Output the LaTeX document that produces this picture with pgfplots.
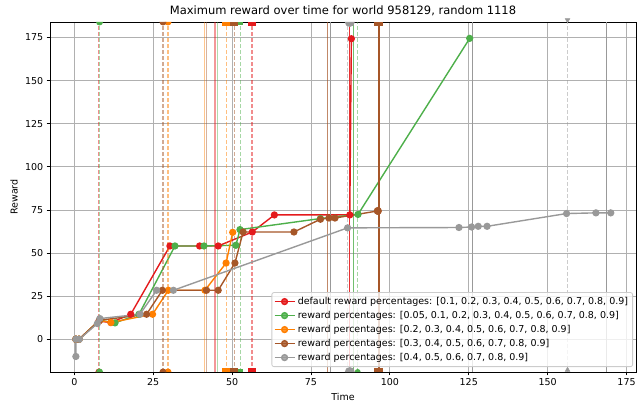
\documentclass[border=0pt]{standalone}
\usepackage{fontspec}
\setmainfont{DejaVu Sans}
\usepackage{pgfplots}
\pgfplotsset{compat=1.18}
\definecolor{cred}{HTML}{E41A1C}
\definecolor{cgreen}{HTML}{4DAF4A}
\definecolor{corange}{HTML}{FF7F00}
\definecolor{cbrown}{HTML}{A65628}
\definecolor{cgrey}{HTML}{999999}
\definecolor{gridc}{HTML}{B0B0B0}
% half marks for the axis edges
\pgfdeclareplotmark{hcd}{\pgfpathmoveto{\pgfqpoint{-\pgfplotmarksize}{0pt}}\pgfpatharc{180}{360}{\pgfplotmarksize}\pgfpathclose\pgfusepathqfill}
\pgfdeclareplotmark{hcu}{\pgfpathmoveto{\pgfqpoint{-\pgfplotmarksize}{0pt}}\pgfpatharc{180}{0}{\pgfplotmarksize}\pgfpathclose\pgfusepathqfill}
\pgfdeclareplotmark{hsd}{\pgfpathrectangle{\pgfqpoint{-\pgfplotmarksize}{-\pgfplotmarksize}}{\pgfqpoint{2\pgfplotmarksize}{\pgfplotmarksize}}\pgfusepathqfill}
\pgfdeclareplotmark{hsu}{\pgfpathrectangle{\pgfqpoint{-\pgfplotmarksize}{0pt}}{\pgfqpoint{2\pgfplotmarksize}{\pgfplotmarksize}}\pgfusepathqfill}
\tikzset{
  vd/.style={dash pattern=on 4pt off 2pt, line width=1.1pt, opacity=0.5},
  vs/.style={line width=1.1pt, opacity=0.45},
  ser/.style={line width=1.4pt, mark=*, mark size=2.9pt, mark options={solid}},
}
\begin{document}
\begin{tikzpicture}
\begin{axis}[
  scale only axis, width=586pt, height=350pt,
  xmin=-7.7, xmax=178, ymin=-19, ymax=184,
  xtick={0,25,...,175}, ytick={0,25,...,175},
  grid=major, major grid style={gridc, line width=0.8pt},
  axis line style={black, line width=0.8pt},
  tick align=outside, tick pos=left, major tick length=3.3pt,
  tick style={black, line width=0.8pt},
  ticklabel style={font=\fontsize{9.5}{11}\selectfont},
  /pgf/number format/assume math mode=true,
  xlabel={Time}, ylabel={Reward},
  label style={font=\fontsize{9.5}{11}\selectfont},
  xlabel style={at={(axis description cs:0.5,-0.0714)}, anchor=center},
  ylabel style={at={(axis description cs:-0.0614,0.5)}, anchor=center},
  title={Maximum reward over time for world 958129, random 1118},
  title style={font=\fontsize{11.5}{13}\selectfont, at={(axis description cs:0.5,1.0343)}, anchor=center, yshift=-7pt},
  legend cell align=left,
  legend style={at={(axis description cs:1,0)}, anchor=south east, xshift=-3pt, yshift=5pt,
    font=\fontsize{9.5}{11}\selectfont, draw=black!20, fill=white, fill opacity=0.8, text opacity=1,
    rounded corners=2pt, line width=0.8pt, inner sep=2pt,
    nodes={inner sep=2.5pt, text height=7pt, text depth=2pt}},
  legend image code/.code={\draw[mark repeat=2,mark phase=2] plot coordinates {(0pt,0pt)(10pt,0pt)(20pt,0pt)};},
]
% ---- red
\addplot[cred, ser] coordinates {(0.5,0) (1.5,0) (7.8,10.5) (11.6,9.7) (17.9,14.5) (30.3,54.1) (39.7,54.1) (45.6,54.1) (56.4,62.2) (63.4,72.1) (87.3,72.1) (87.8,174.3)};
\addlegendentry{default reward percentages: [0.1, 0.2, 0.3, 0.4, 0.5, 0.6, 0.7, 0.8, 0.9]}
\addplot[forget plot, cred, vd] coordinates {(7.8,-19) (7.8,184)};
\addplot[forget plot, cred, only marks, mark=hcu, mark size=3.5pt] coordinates {(7.8,-19)};
\addplot[forget plot, cred, line width=2pt, opacity=0.45] coordinates {(44.6,-19) (44.6,184)};
\addplot[forget plot, cred, vd] coordinates {(56.3,-19) (56.3,184)};
\addplot[forget plot, cred, only marks, mark=hsd, mark size=4pt] coordinates {(56.3,184)};
\addplot[forget plot, cred, only marks, mark=hsu, mark size=4pt] coordinates {(56.3,-19)};
\addplot[forget plot, cred, line width=1.4pt, opacity=0.9] coordinates {(87.3,-19) (87.3,184)};
% ---- green
\addplot[cgreen, ser] coordinates {(0.5,0) (1.5,0) (8,11) (12.9,9.5) (20.5,14.5) (31.9,54.1) (41.1,54.1) (51.2,54.5) (52.5,63.6) (78,70) (89.9,72.4) (125.3,174.5)};
\addlegendentry{reward percentages: [0.05, 0.1, 0.2, 0.3, 0.4, 0.5, 0.6, 0.7, 0.8, 0.9]}
\addplot[forget plot, cgreen, vd] coordinates {(8.0,-19) (8.0,184)};
\addplot[forget plot, cgreen, only marks, mark=hcd, mark size=3.5pt] coordinates {(8.0,184)};
\addplot[forget plot, cgreen, only marks, mark=hcu, mark size=3.5pt] coordinates {(8.0,-19)};
\addplot[forget plot, cgreen, vs] coordinates {(45.5,-19) (45.5,184)};
\addplot[forget plot, cgreen, vd] coordinates {(52.6,-19) (52.6,184)};
\addplot[forget plot, cgreen, only marks, mark=hsd, mark size=3pt] coordinates {(52.6,184)};
\addplot[forget plot, cgreen, only marks, mark=hsu, mark size=3pt] coordinates {(52.6,-19)};
\addplot[forget plot, cgreen, line width=1pt, opacity=0.8] coordinates {(88.5,-19) (88.5,184)};
\addplot[forget plot, cgreen, vd] coordinates {(89.8,-19) (89.8,184)};
\addplot[forget plot, cgreen, only marks, mark=hcu, mark size=3pt] coordinates {(89.8,-19)};
% ---- orange
\addplot[corange, ser] coordinates {(0.5,0) (1.5,0) (8,11) (11.6,9.7) (24.8,14.5) (29.8,28.4) (41.4,28.4) (48.1,44.2) (50.2,62)};
\addlegendentry{reward percentages: [0.2, 0.3, 0.4, 0.5, 0.6, 0.7, 0.8, 0.9]}
\addplot[forget plot, corange, vd] coordinates {(29.7,-19) (29.7,184)};
\addplot[forget plot, corange, only marks, mark=hcd, mark size=3.5pt] coordinates {(29.7,184)};
\addplot[forget plot, corange, only marks, mark=hcu, mark size=3.5pt] coordinates {(29.7,-19)};
\addplot[forget plot, corange, vs] coordinates {(41.3,-19) (41.3,184)};
\addplot[forget plot, corange, vd] coordinates {(48.1,-19) (48.1,184)};
\addplot[forget plot, corange, only marks, mark=hsd, mark size=4.5pt] coordinates {(48.1,184)};
\addplot[forget plot, corange, only marks, mark=hsu, mark size=4.5pt] coordinates {(48.1,-19)};
% ---- brown
\addplot[cbrown, ser] coordinates {(0.5,0) (1.5,0) (8,11) (22.9,14.5) (27.9,28.4) (41.9,28.4) (45.6,28.4) (50.9,44.2) (53.5,62.2) (69.6,62.2) (78,69.6) (80.7,70.3) (82.6,70.3) (96.1,74.4)};
\addlegendentry{reward percentages: [0.3, 0.4, 0.5, 0.6, 0.7, 0.8, 0.9]}
\addplot[forget plot, cbrown, vd] coordinates {(28.1,-19) (28.1,184)};
\addplot[forget plot, cbrown, only marks, mark=hcd, mark size=3.5pt] coordinates {(28.1,184)};
\addplot[forget plot, cbrown, only marks, mark=hcu, mark size=3.5pt] coordinates {(28.1,-19)};
\addplot[forget plot, cbrown, vs] coordinates {(41.9,-19) (41.9,184)};
\addplot[forget plot, cbrown, vd] coordinates {(50.7,-19) (50.7,184)};
\addplot[forget plot, cbrown, only marks, mark=hsd, mark size=4pt] coordinates {(50.7,184)};
\addplot[forget plot, cbrown, only marks, mark=hsu, mark size=4pt] coordinates {(50.7,-19)};
\addplot[forget plot, cbrown, line width=1pt, opacity=0.7] coordinates {(80.1,-19) (80.1,184)};
\addplot[forget plot, cbrown, line width=2.6pt] coordinates {(96.5,-19) (96.5,184)};
\addplot[forget plot, cbrown, only marks, mark=hsd, mark size=4.5pt] coordinates {(96.5,184)};
\addplot[forget plot, cbrown, only marks, mark=hsu, mark size=4.5pt] coordinates {(96.5,-19)};
\addplot[forget plot, cbrown, only marks, mark=*, mark size=3.8pt] coordinates {(96.2,74.4)};
% ---- grey
\addplot[cgrey, ser] coordinates {(0.5,-10) (0.5,0) (1.6,0) (7.3,9.1) (8.1,12) (20.8,14.5) (26.1,28.4) (31.4,28.4) (86.6,64.6) (121.9,64.8) (125.9,65.1) (128,65.5) (130.8,65.5) (156,72.9) (165.3,73.3) (170,73.3)};
\addlegendentry{reward percentages: [0.4, 0.5, 0.6, 0.7, 0.8, 0.9]}
\addplot[forget plot, cgrey, line width=1pt] coordinates {(81.3,-19) (81.3,184)};
\addplot[forget plot, cgrey, vd] coordinates {(86.5,-19) (86.5,184)};
\addplot[forget plot, cgrey, only marks, mark=hcd, mark size=5pt] coordinates {(87.3,184)};
\addplot[forget plot, cgrey, only marks, mark=hcu, mark size=5pt] coordinates {(87.3,-19)};
\addplot[forget plot, cgrey, line width=1pt] coordinates {(126.2,-19) (126.2,184)};
\addplot[forget plot, cgrey, vd] coordinates {(156.3,-19) (156.3,184)};
\addplot[forget plot, cgrey, only marks, mark=triangle*, mark size=2.8pt, mark options={rotate=180, yshift=-2pt}] coordinates {(156.3,184)};
\addplot[forget plot, cgrey, only marks, mark=triangle*, mark size=2.8pt, mark options={yshift=2pt}] coordinates {(156.3,-19)};
\addplot[forget plot, cgrey, line width=1pt] coordinates {(168.8,-19) (168.8,184)};
\end{axis}
\pgfresetboundingbox
\path[use as bounding box] ([xshift=-50pt,yshift=-32pt]current axis.south west) rectangle ([xshift=6pt,yshift=22pt]current axis.north east);
\end{tikzpicture}
\end{document}
